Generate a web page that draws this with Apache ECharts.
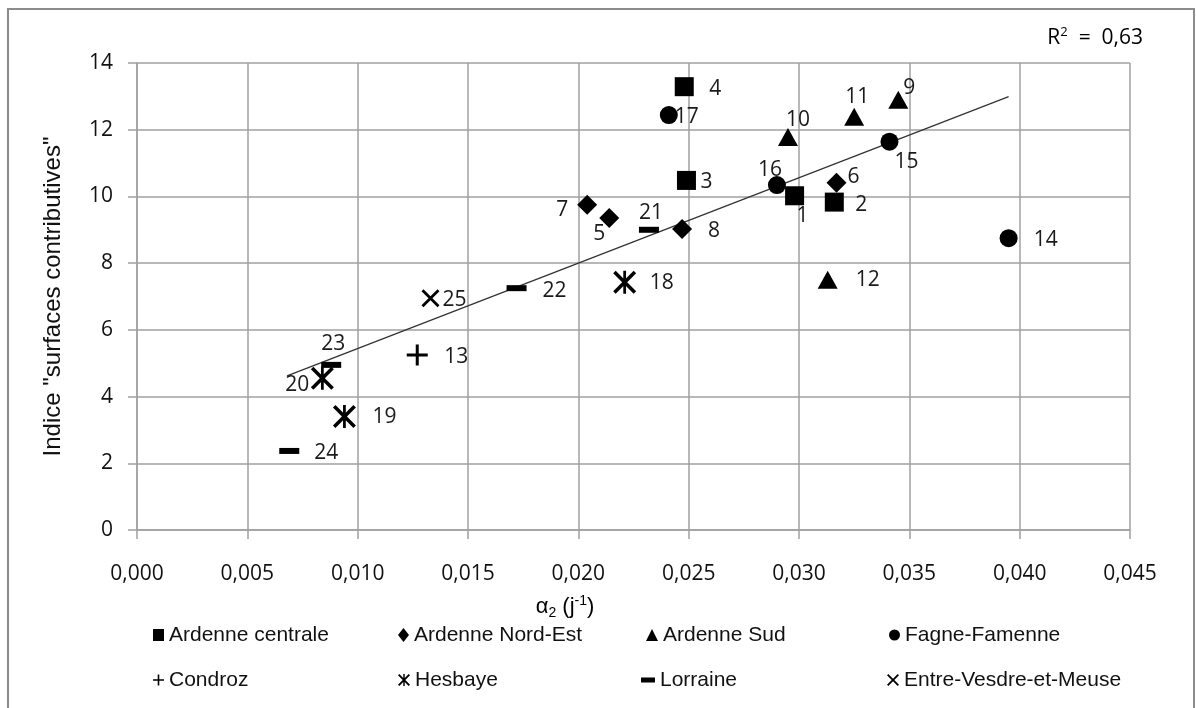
<!DOCTYPE html>
<html>
<head>
<meta charset="utf-8">
<title>Indice surfaces contributives / alpha2</title>
<script src="https://cdn.jsdelivr.net/npm/echarts@6/dist/echarts.min.js"></script>
<style>
  html, body { margin: 0; padding: 0; background: #fff; }
  #main { width: 1196px; height: 708px; }
</style>
</head>
<body>
<div id="main"></div>
<script>
// [alpha2 (j-1), indice, n° du bassin]
const ardenneCentrale = [[0.0298, 10.02, 1], [0.0316, 9.83, 2], [0.0249, 10.48, 3], [0.0248, 13.29, 4]];
const ardenneNordEst = [[0.0214, 9.35, 5], [0.0317, 10.41, 6], [0.0204, 9.75, 7], [0.0247, 9.02, 8]];
const ardenneSud = [[0.0345, 12.90, 9], [0.0295, 11.78, 10], [0.0325, 12.39, 11], [0.0313, 7.50, 12]];
const fagneFamenne = [[0.0395, 8.75, 14], [0.0341, 11.64, 15], [0.0290, 10.34, 16], [0.0241, 12.44, 17]];
const condroz = [[0.0127, 5.25, 13]];
const hesbaye = [[0.0221, 7.43, 18], [0.0094, 3.40, 19], [0.0084, 4.55, 20]];
const lorraine = [[0.0232, 9.00, 21], [0.0172, 7.25, 22], [0.0088, 4.95, 23], [0.0069, 2.37, 24]];
const entreVesdreMeuse = [[0.0133, 6.95, 25]];

// droite de tendance
const trendX = [0.0068, 0.0395];
const trendY = [4.62, 12.99];

const r2Text = '0,63';

// décalage des étiquettes (px) par rapport au symbole
const labelOffset = {
  1: [8, 20], 2: [27, 3], 3: [20, 2], 4: [31, 2], 5: [-10, 16], 6: [17, -6], 7: [-25, 5], 8: [32, 2],
  9: [11, -12], 10: [10, -17], 11: [3, -20], 12: [40, 0], 13: [39, 2], 14: [37, 2], 15: [17, 20],
  16: [-7, -15], 17: [18, 2], 18: [37, 1], 19: [40, 0], 20: [-25, 7], 21: [2, -17], 22: [38, 3],
  23: [2, -21], 24: [37, 2], 25: [24, 2]
};

const plusPath = 'path://M9,0H12V9H21V12H12V21H9V12H0V9H9Z';
const crossPath = 'path://M0,2.2L2.2,0L10,7.8L17.8,0L20,2.2L12.2,10L20,17.8L17.8,20L10,12.2L2.2,20L0,17.8L7.8,10Z';
const starPath = crossPath + 'M8.8,0H11.2V20H8.8Z';
const dashPath = 'path://M0,0H14V5H0Z';

const gridColor = '#a0a0a0';
const numFont = '"Open Sans", sans-serif';
const txtFont = '"Liberation Sans", Arial, sans-serif';

function scatter(name, pts, symbol, size) {
  return {
    name: name,
    type: 'scatter',
    symbol: symbol,
    symbolSize: size,
    itemStyle: { color: '#000', opacity: 1 },
    emphasis: { disabled: true },
    label: {
      show: true,
      position: 'inside',
      formatter: function (p) { return p.value[2]; },
      color: '#1a1a1a',
      textBorderWidth: 0,
      fontFamily: numFont,
      fontSize: 21
    },
    data: pts.map(function (p) {
      return { value: p, label: { offset: labelOffset[p[2]] } };
    }),
    z: 3
  };
}

function legendItem(name, icon, left, top, w, h) {
  return {
    data: [{ name: name, icon: icon }],
    left: left,
    top: top,
    padding: 0,
    itemWidth: w,
    itemHeight: h,
    selectedMode: false,
    itemStyle: { opacity: 1 },
    textStyle: { fontFamily: txtFont, fontSize: 21, color: '#111', lineHeight: 24 }
  };
}

const chart = echarts.init(document.getElementById('main'));
chart.setOption({
  backgroundColor: '#fff',
  animation: false,
  grid: { left: 137, right: 66, top: 63, bottom: 178, containLabel: false, outerBoundsMode: 'none' },
  xAxis: {
    type: 'value',
    min: 0,
    max: 0.045,
    interval: 0.005,
    axisLine: { show: true, lineStyle: { color: gridColor, width: 1.5 } },
    axisTick: { show: true, length: 9, lineStyle: { color: gridColor, width: 1.5 } },
    splitLine: { show: true, lineStyle: { color: gridColor, width: 1.5 } },
    axisLabel: {
      formatter: function (v) { return v.toFixed(3).replace('.', ','); },
      fontFamily: numFont, fontSize: 21, color: '#111', margin: 34
    }
  },
  yAxis: {
    type: 'value',
    min: 0,
    max: 14,
    interval: 2,
    name: 'Indice "surfaces contributives"',
    nameLocation: 'middle',
    nameRotate: 90,
    nameGap: 72,
    nameTextStyle: { fontFamily: txtFont, fontSize: 24, color: '#111' },
    axisLine: { show: true, lineStyle: { color: gridColor, width: 1.5 } },
    axisTick: { show: true, length: 9, lineStyle: { color: gridColor, width: 1.5 } },
    splitLine: { show: true, lineStyle: { color: gridColor, width: 1.5 } },
    axisLabel: { fontFamily: numFont, fontSize: 21, color: '#111', margin: 24 }
  },
  legend: [
    legendItem('Ardenne centrale', 'rect', 153, 623, 11, 12),
    legendItem('Ardenne Nord-Est', 'diamond', 398, 623, 11, 14),
    legendItem('Ardenne Sud', 'triangle', 646, 623, 12, 12),
    legendItem('Fagne-Famenne', 'circle', 889, 623, 11, 12),
    legendItem('Condroz', plusPath, 153, 668, 11, 11),
    legendItem('Hesbaye', starPath, 398, 668, 12, 12),
    legendItem('Lorraine', dashPath, 641, 668, 14, 12),
    legendItem('Entre-Vesdre-et-Meuse', crossPath, 887, 668, 12, 12)
  ],
  series: [
    scatter('Ardenne centrale', ardenneCentrale, 'rect', 19),
    scatter('Ardenne Nord-Est', ardenneNordEst, 'diamond', 20),
    scatter('Ardenne Sud', ardenneSud, 'triangle', [20, 18]),
    scatter('Fagne-Famenne', fagneFamenne, 'circle', 18),
    scatter('Condroz', condroz, plusPath, 21),
    scatter('Hesbaye', hesbaye, starPath, 23),
    scatter('Lorraine', lorraine, 'rect', [20, 6]),
    scatter('Entre-Vesdre-et-Meuse', entreVesdreMeuse, crossPath, 18),
    {
      name: 'tendance',
      type: 'line',
      data: trendX.map(function (x, i) { return [x, trendY[i]]; }),
      symbol: 'none',
      silent: true,
      lineStyle: { color: '#333', width: 1.3 },
      z: 2
    }
  ],
  graphic: [
    {
      type: 'rect',
      shape: { x: 8, y: 9, width: 1186, height: 720 },
      style: { fill: 'none', stroke: '#8c8c8c', lineWidth: 2 },
      silent: true
    },
    {
      type: 'text',
      x: 565,
      y: 607,
      style: {
        text: '{a|α}{s|2}{a| (j}{p|-1}{a|)}',
        align: 'center',
        verticalAlign: 'middle',
        rich: {
          a: { fontFamily: txtFont, fontSize: 22, color: '#111', lineHeight: 26 },
          s: { fontFamily: txtFont, fontSize: 14, color: '#111', lineHeight: 14, verticalAlign: 'bottom' },
          p: { fontFamily: txtFont, fontSize: 14, color: '#111', lineHeight: 14, verticalAlign: 'top' }
        }
      }
    },
    {
      type: 'text',
      x: 1143,
      y: 38,
      style: {
        text: '{a|R}{p|2}{a|  =  ' + r2Text + '}',
        align: 'right',
        verticalAlign: 'middle',
        rich: {
          a: { fontFamily: numFont, fontSize: 21, color: '#111', lineHeight: 24 },
          p: { fontFamily: numFont, fontSize: 13, color: '#111', lineHeight: 13, verticalAlign: 'top' }
        }
      }
    }
  ]
});
</script>
</body>
</html>
